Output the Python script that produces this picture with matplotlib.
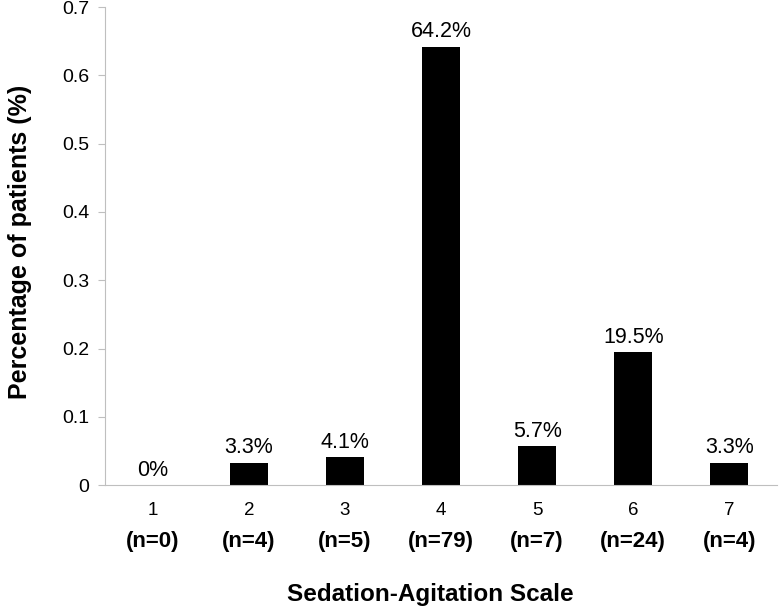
import matplotlib
matplotlib.use('Agg')
import matplotlib.pyplot as plt
from matplotlib.ticker import FuncFormatter

plt.rcParams['font.family'] = ['Liberation Sans', 'DejaVu Sans']

# data
scores = ['1', '2', '3', '4', '5', '6', '7']
counts = ['(n=0)', '(n=4)', '(n=5)', '(n=79)', '(n=7)', '(n=24)', '(n=4)']
shares = [0.0, 0.033, 0.041, 0.642, 0.057, 0.195, 0.033]
share_labels = ['0%', '3.3%', '4.1%', '64.2%', '5.7%', '19.5%', '3.3%']

fig = plt.figure(figsize=(7.82, 6.11), dpi=100)
ax = fig.add_axes([0.134, 0.206, 0.86, 0.7825])

x = range(len(scores))
bars = ax.bar(x, shares, width=0.4, color='black')
ax.bar_label(bars, labels=share_labels, padding=3, fontsize=15.5)

ax.set_xlim(-0.5, len(scores) - 0.5)
ax.set_ylim(0, 0.7)
ax.set_yticks([0, 0.1, 0.2, 0.3, 0.4, 0.5, 0.6, 0.7])
ax.yaxis.set_major_formatter(FuncFormatter(lambda v, p: '%g' % round(v, 1)))
ax.set_xticks(list(x))
ax.set_xticklabels(scores, fontsize=13.5)
ax.tick_params(axis='x', length=0, pad=12)
ax.tick_params(axis='y', length=5, color='#bfbfbf', labelsize=14, pad=6)

for s in ['top', 'right']:
    ax.spines[s].set_visible(False)
for s in ['left', 'bottom']:
    ax.spines[s].set_color('#bfbfbf')

# sample sizes under the score labels
for i, c in enumerate(counts):
    ax.text(i, -0.082, c, ha='center', va='center', fontsize=16, fontweight='bold')

ax.set_xlabel('Sedation-Agitation Scale', fontsize=17.5, fontweight='bold', labelpad=46)
ax.set_ylabel('Percentage of patients (%)', fontsize=18, fontweight='bold', labelpad=22)
ax.xaxis.set_label_coords(0.484, -0.205)
ax.yaxis.label.set_y(0.508)

fig.savefig('out.png', dpi=100)
